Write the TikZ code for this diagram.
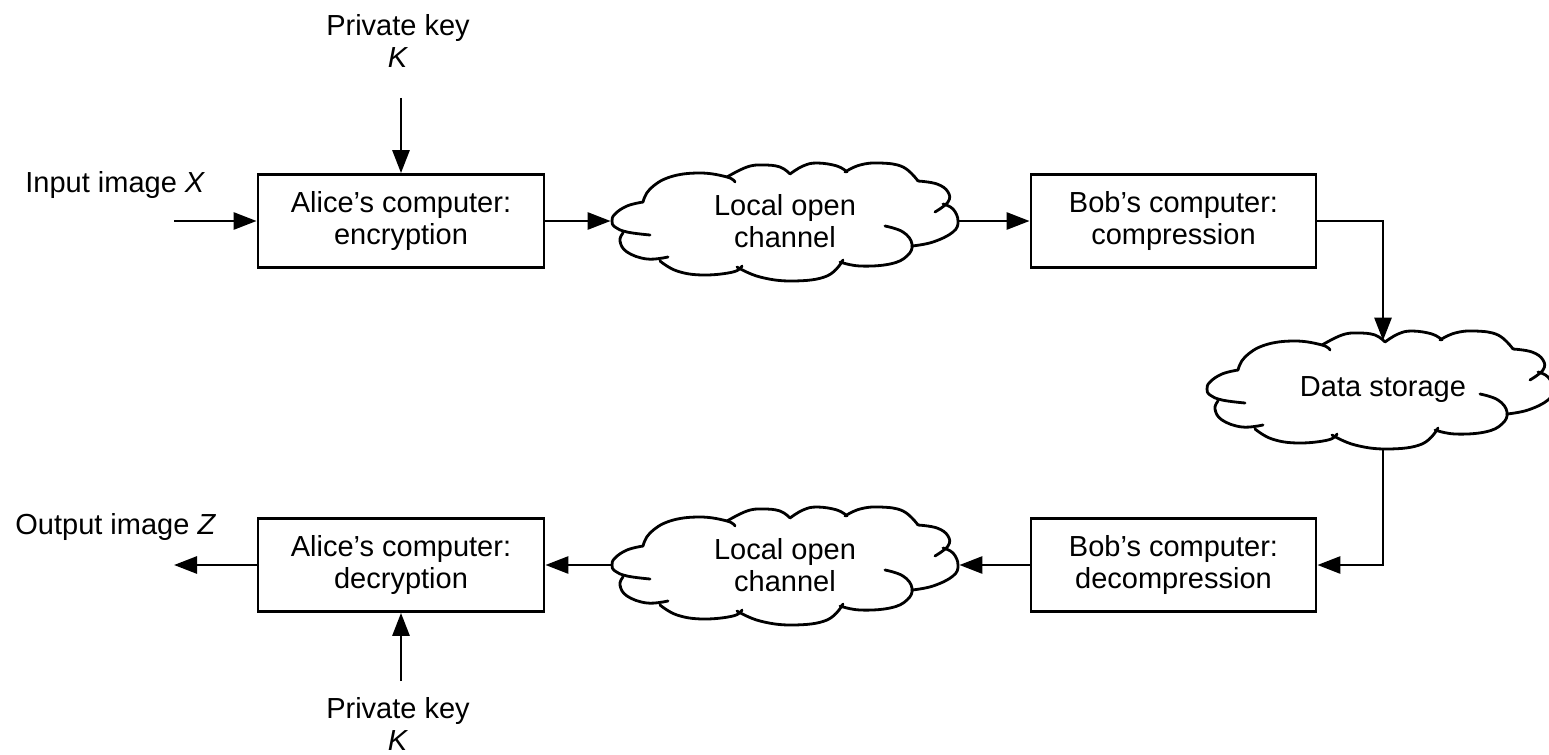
\documentclass[tikz,border=0pt]{standalone}
\usepackage{fontspec}
\setmainfont{Liberation Sans}
\usetikzlibrary{arrows.meta}
\newcommand\dfont{\fontsize{14.5pt}{16pt}\selectfont}
\newcommand\cloudshape[1]{%
\begin{scope}[shift={#1}]
\draw[lobe] plot[smooth,tension=0.7] coordinates {(31,38) (15,42) (3,50) (0,57) (3,63) (15,68) (38,71)};
\draw[lobe] plot[smooth,tension=0.7] coordinates {(11,69) (8,77) (15,88) (35,95) (56,93)};
\draw[lobe] plot[smooth,tension=0.7] coordinates {(48,97) (65,107) (91,111) (121,108) (130,102)};
\draw[lobe] plot[smooth,tension=0.7] coordinates {(125,103) (148,113) (181,117) (215,112) (231,96)};
\draw[lobe] plot[smooth,tension=0.7] coordinates {(273,62) (291,68) (300,80) (295,92) (278,100) (248,102) (228,98)};
\draw[lobe] plot[smooth,tension=0.7] coordinates {(300,82) (321,78) (341,68) (346,57) (341,45) (331,40)};
\draw[lobe] plot[smooth,tension=0.7] coordinates {(306,17) (325,20) (336,28) (336,38) (323,48)};
\draw[lobe] plot[smooth,tension=0.7] coordinates {(233,8) (248,1) (268,-1) (291,3) (306,17)};
\draw[lobe] plot[smooth,tension=0.7] coordinates {(178,10) (191,2) (205,-1) (225,2) (235,8)};
\draw[lobe] plot[smooth,tension=0.7] coordinates {(115,13) (135,3) (151,1) (168,3) (178,10)};
\draw[lobe] plot[smooth,tension=0.7] coordinates {(31,38) (38,25) (58,13) (88,9) (115,13) (123,18)};
\end{scope}}
\begin{document}
\begin{tikzpicture}[x=0.5pt,y=-0.5pt,
  line width=1.4pt,
  box/.style={draw, rectangle, minimum width=143pt, minimum height=46.5pt, align=center, font=\dfont, inner sep=0pt},
  cloudnode/.style={minimum width=173pt, minimum height=58pt, align=center, inner sep=0pt, font=\dfont},
  lbl/.style={align=center, font=\dfont, inner sep=0pt},
  arr/.style={-{Triangle[length=11.5pt,width=8.5pt]}},
  lobe/.style={line width=1.4pt, line join=round, line cap=round}]
\useasboundingbox (0,0) rectangle (1549,755);

% nodes
\node[box] (alicee) at (401,221) {Alice’s computer:\\encryption};
\node[cloudnode] (cl1) at (785,221) {Local open\\channel};
\node[box, minimum width=142.5pt] (bobc) at (1173.5,221) {Bob’s computer:\\compression};
\node[cloudnode] (ds) at (1383,390) {Data storage};
\node[box, minimum width=142.5pt] (bobd) at (1173.5,565) {Bob’s computer:\\decompression};
\node[cloudnode] (cl2) at (785,565) {Local open\\channel};
\node[box] (alid) at (401,565) {Alice’s computer:\\decryption};

\node[lbl] (keyt) at (398,41) {Private key\\\textit{K}};
\node[lbl] (keyb) at (398,724) {Private key\\\textit{K}};
\node[lbl, anchor=west] (inl) at (24,185) {Input image \textit{X}};
\node[lbl, anchor=west] (outl) at (14,527) {Output image \textit{Z}};
\coordinate (inp) at (174,221);
\coordinate (outp) at (174,565);

% clouds
\cloudshape{(612,164)}
\cloudshape{(1207,332)}
\cloudshape{(612,508)}

% connectors
\draw[arr, shorten <=14.5pt] (keyt.south -| alicee.north) -- (alicee.north);
\draw[arr] (inp) -- (alicee.west);
\draw[arr] (alicee.east) -- (cl1.west);
\draw[arr] (cl1.east) -- (bobc.west);
\draw[arr, shorten >=-5pt] (bobc.east) -| (ds.north);
\draw[arr] (ds.south) |- (bobd.east);
\draw[arr] (bobd.west) -- (cl2.east);
\draw[arr] (cl2.west) -- (alid.east);
\draw[arr] (alid.west) -- (outp);
\draw[arr, shorten <=7.5pt] (keyb.north -| alid.south) -- (alid.south);
\end{tikzpicture}
\end{document}
